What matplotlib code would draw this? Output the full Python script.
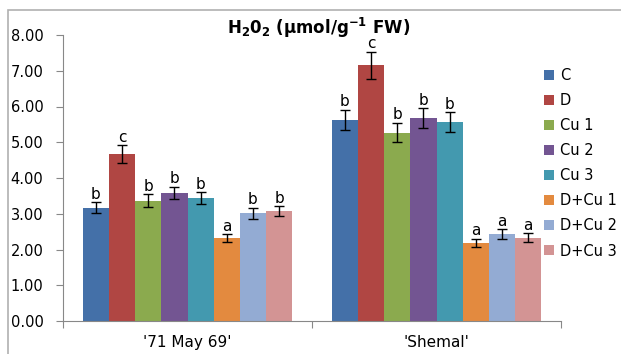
import matplotlib
matplotlib.use("Agg")
import matplotlib.pyplot as plt
import numpy as np
from matplotlib.patches import Rectangle

cultivars = ["'71 May 69'", "'Shemal'"]
treatments = ["C", "D", "Cu 1", "Cu 2", "Cu 3", "D+Cu 1", "D+Cu 2", "D+Cu 3"]
values_may = [3.17, 4.67, 3.36, 3.58, 3.43, 2.31, 3.01, 3.08]
values_shemal = [5.62, 7.15, 5.27, 5.68, 5.56, 2.18, 2.43, 2.33]
err_may = [0.15, 0.24, 0.18, 0.17, 0.17, 0.11, 0.15, 0.13]
err_shemal = [0.28, 0.37, 0.27, 0.27, 0.28, 0.11, 0.13, 0.12]
letters_may = ["b", "c", "b", "b", "b", "a", "b", "b"]
letters_shemal = ["b", "c", "b", "b", "b", "a", "a", "a"]
yticks = [0, 1, 2, 3, 4, 5, 6, 7, 8]

colors = ["#4470A8", "#B04643", "#8BAA4E", "#735592", "#4399AF", "#E38A3F", "#93ABD3", "#D39494"]

fig = plt.figure(figsize=(6.21, 3.54), dpi=100)
ax = fig.add_axes([63/621, 1-321/354, (561-63)/621, (321-35)/354])

# outer chart frame
fig.patches.append(Rectangle((8/621, -0.05), 1.0, 1-10/354+0.05, transform=fig.transFigure,
                             fill=False, edgecolor="#b0b0b0", linewidth=1.2))

vals = np.array([values_may, values_shemal])
errs = np.array([err_may, err_shemal])
lets = [letters_may, letters_shemal]
n = len(treatments)
w = 0.105
x = np.arange(len(cultivars))
for i in range(n):
    xs = x + (i - (n-1)/2) * w
    ax.bar(xs, vals[:, i], width=w, color=colors[i], label=treatments[i],
           yerr=errs[:, i], error_kw=dict(ecolor="black", elinewidth=1, capsize=3.5, capthick=1))
    for j in range(len(cultivars)):
        ax.text(xs[j], vals[j, i] + errs[j, i] + 0.02, lets[j][i], ha="center", va="bottom",
                fontsize=11, color="black")

ax.set_xlim(-0.5, 1.5)
ax.set_ylim(0, 8)
ax.set_yticks(yticks)
ax.set_yticklabels([f"{t:.2f}" for t in yticks], fontsize=10.5)
ax.set_xticks([-0.5, 0.5, 1.5])
ax.set_xticklabels([])
ax.tick_params(axis="x", length=5, color="#888888", direction="out")
ax.tick_params(axis="y", length=5, color="#888888", direction="out", pad=9)
for t, lab in zip(x, cultivars):
    ax.text(t, -0.4, lab, ha="center", va="top", fontsize=11)
for s in ["top", "right"]:
    ax.spines[s].set_visible(False)
for s in ["left", "bottom"]:
    ax.spines[s].set_color("#888888")

fig.text(319/621, 1-28/354, r"H$_\mathbf{2}$0$_\mathbf{2}$ (µmol/g$^{\mathbf{-1}}$ FW)", ha="center", va="center",
         fontsize=12, fontweight="bold")

leg = ax.legend(loc="upper left", bbox_to_anchor=(531/621, 1-55/354), bbox_transform=fig.transFigure,
                frameon=False, fontsize=10.5, handlelength=0.68, handleheight=0.68, handletextpad=0.4,
                labelspacing=0.69)

fig.savefig("out.png", dpi=100)
